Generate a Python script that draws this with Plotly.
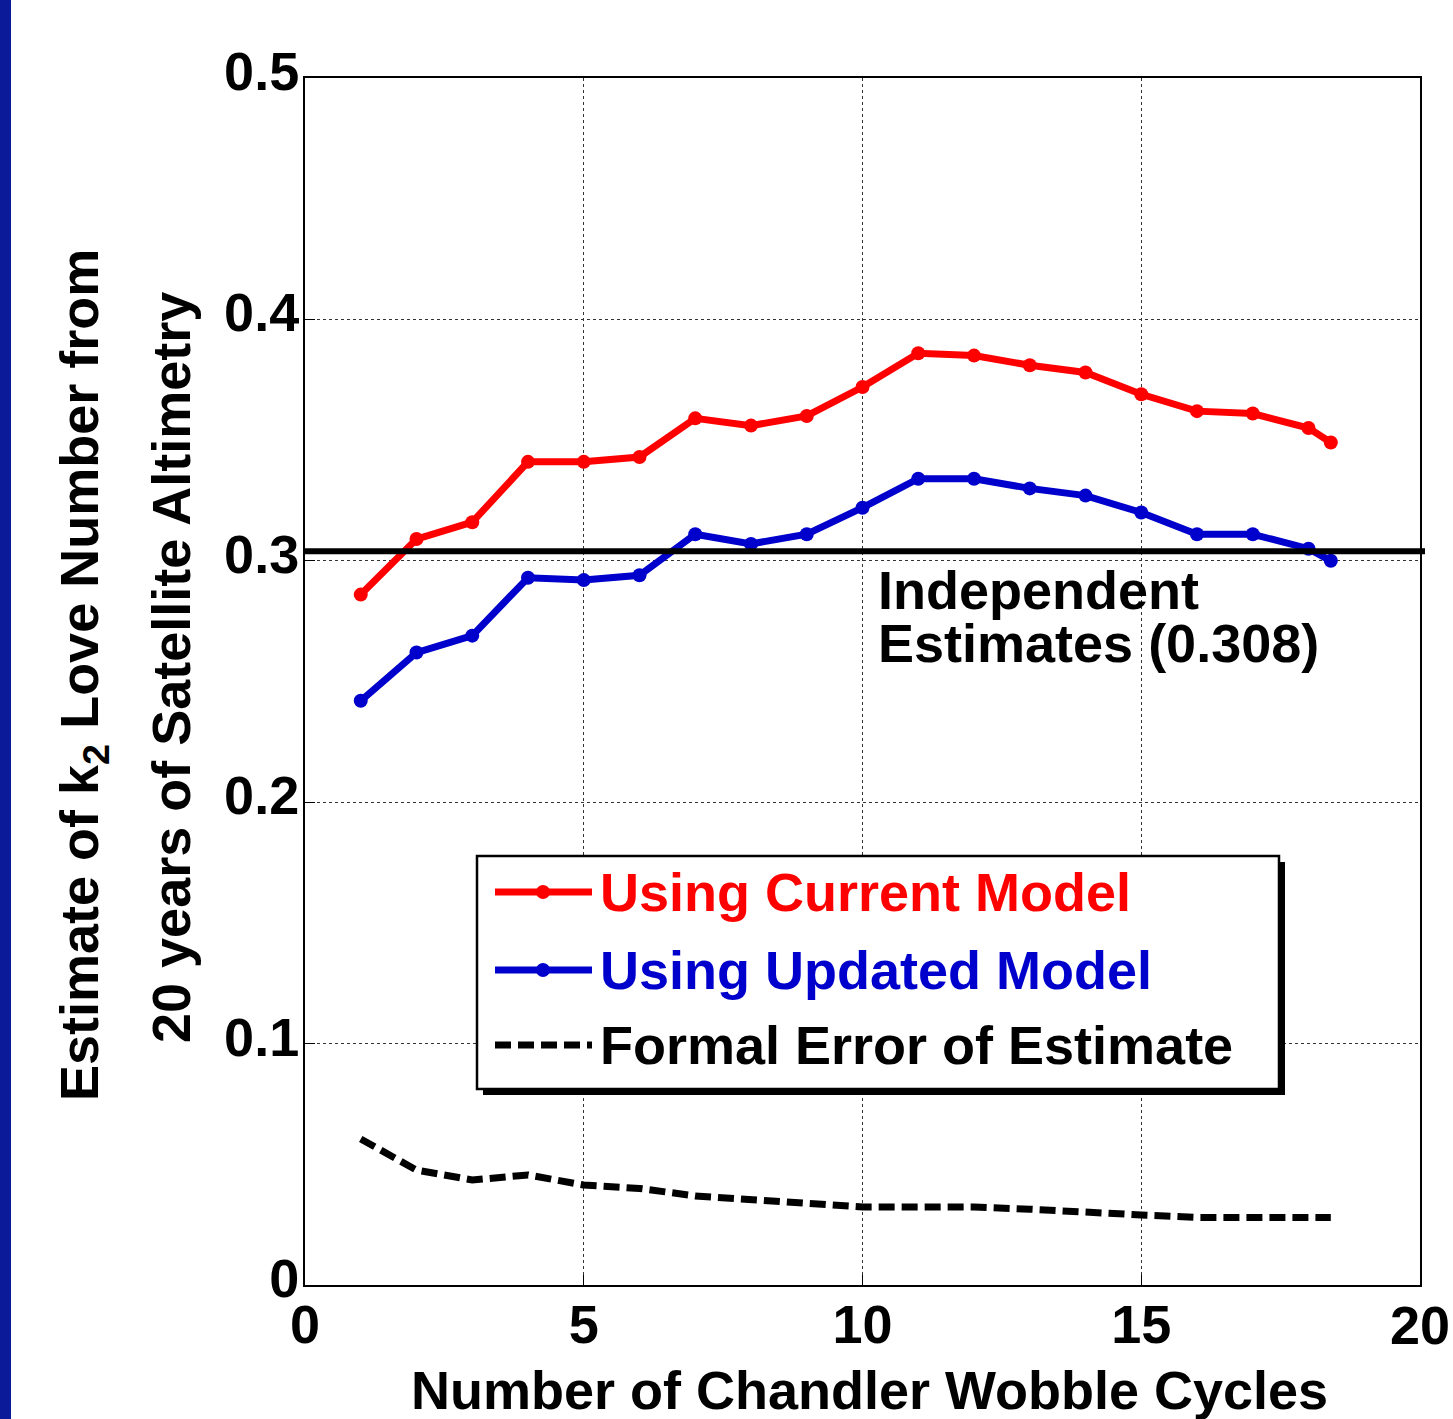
import plotly.graph_objects as go

cycles = [1, 2, 3, 4, 5, 6, 7, 8, 9, 10, 11, 12, 13, 14, 15, 16, 17, 18, 18.4]
current_model = [0.286, 0.309, 0.316, 0.341, 0.341, 0.343, 0.359, 0.356, 0.360, 0.372,
                 0.386, 0.385, 0.381, 0.378, 0.369, 0.362, 0.361, 0.355, 0.349]
updated_model = [0.242, 0.262, 0.269, 0.293, 0.292, 0.294, 0.311, 0.307, 0.311, 0.322,
                 0.334, 0.334, 0.330, 0.327, 0.320, 0.311, 0.311, 0.305, 0.300]
formal_error = [0.0605, 0.0476, 0.0435, 0.0456, 0.0414, 0.0400, 0.0369, 0.0356, 0.0336, 0.0323,
                0.0323, 0.0323, 0.0314, 0.0300, 0.0290, 0.0280, 0.0280, 0.0280, 0.0280]
independent_estimate = 0.304
x_ticks = [0, 5, 10, 15, 20]
x_tick_text = ["0", "5", "10", "15", "20"]
y_ticks = [0, 0.1, 0.2, 0.3, 0.4, 0.5]
y_tick_text = ["0", "0.1", "0.2", "0.3", "0.4", "0.5"]

W, H = 1453, 1419
L, R, T, B = 305, 1420, 78, 1285
FONT = "Liberation Sans"
FS = 54


def px(x):
    return (x - L) / (R - L)


def py(y):
    return (B - y) / (B - T)


fig = go.Figure()
fig.add_trace(go.Scatter(x=cycles, y=formal_error, mode="lines",
                         line=dict(color="black", width=7, dash="16px,7px"),
                         showlegend=False))
fig.add_trace(go.Scatter(x=cycles, y=current_model, mode="lines+markers",
                         line=dict(color="#ff0000", width=7),
                         marker=dict(color="#ff0000", size=14), showlegend=False))
fig.add_trace(go.Scatter(x=cycles, y=updated_model, mode="lines+markers",
                         line=dict(color="#0000cc", width=7),
                         marker=dict(color="#0000cc", size=14), showlegend=False))

shapes = []
# left blue bar
shapes.append(dict(type="rect", xref="paper", yref="paper", x0=px(0), x1=px(11),
                   y0=py(H), y1=py(0), fillcolor="#0a1a99", line=dict(width=0), layer="above"))
# independent estimate line
shapes.append(dict(type="line", xref="paper", yref="y", x0=0, x1=px(1425),
                   y0=independent_estimate, y1=independent_estimate,
                   line=dict(color="black", width=6), layer="above"))
# legend shadow and box
shapes.append(dict(type="rect", xref="paper", yref="paper", x0=px(483), x1=px(1285),
                   y0=py(1095), y1=py(862), fillcolor="black", line=dict(width=0), layer="above"))
shapes.append(dict(type="rect", xref="paper", yref="paper", x0=px(477), x1=px(1279),
                   y0=py(1089), y1=py(856), fillcolor="white",
                   line=dict(color="black", width=2.5), layer="above"))
# legend samples
legend_rows = [("Using Current Model", "#ff0000", 892, "solid"),
               ("Using Updated Model", "#0000cc", 970, "solid"),
               ("Formal Error of Estimate", "black", 1045, "16px,7px")]
annotations = []
for label, col, yy, dash in legend_rows:
    shapes.append(dict(type="line", xref="paper", yref="paper", x0=px(495), x1=px(592),
                       y0=py(yy), y1=py(yy), line=dict(color=col, width=7, dash=dash),
                       layer="above"))
    if dash == "solid":
        shapes.append(dict(type="circle", xref="paper", yref="paper",
                           x0=px(536), x1=px(550), y0=py(yy + 7), y1=py(yy - 7),
                           fillcolor=col, line=dict(width=0), layer="above"))
    annotations.append(dict(text=label, xref="paper", yref="paper", x=px(598), y=py(yy),
                            xanchor="left", yanchor="middle", showarrow=False,
                            font=dict(family=FONT, size=FS, color=col, weight="bold")))

annotations.append(dict(text="Independent", xref="paper", yref="paper", x=px(876), y=py(590),
                        xanchor="left", yanchor="middle", showarrow=False,
                        font=dict(family=FONT, size=FS, color="black", weight="bold")))
annotations.append(dict(text="Estimates (0.308)", xref="paper", yref="paper", x=px(876), y=py(643),
                        xanchor="left", yanchor="middle", showarrow=False,
                        font=dict(family=FONT, size=FS, color="black", weight="bold")))
annotations.append(dict(text="Estimate of k<sub>2</sub> Love Number from", xref="paper", yref="paper",
                        x=px(83), y=py(675), xanchor="center", yanchor="middle", textangle=-90,
                        showarrow=False,
                        font=dict(family=FONT, size=FS, color="black", weight="bold")))
annotations.append(dict(text="20 years of Satellite Altimetry", xref="paper", yref="paper",
                        x=px(171), y=py(668), xanchor="center", yanchor="middle", textangle=-90,
                        showarrow=False,
                        font=dict(family=FONT, size=FS, color="black", weight="bold")))
annotations.append(dict(text="Number of Chandler Wobble Cycles", xref="paper", yref="paper",
                        x=px(869), y=py(1390), xanchor="center", yanchor="middle",
                        showarrow=False,
                        font=dict(family=FONT, size=FS, color="black", weight="bold")))
# last x tick label placed at the right edge of the axis (kept inside the page)
annotations.append(dict(text=x_tick_text[-1], xref="x", yref="paper", x=x_ticks[-1],
                        y=py(1325), xanchor="center", yanchor="middle", showarrow=False,
                        font=dict(family=FONT, size=FS, color="black", weight="bold")))

axis_common = dict(showline=True, linecolor="black", linewidth=2, mirror=True,
                   showgrid=True, gridcolor="#333333", gridwidth=1, griddash="dot",
                   ticks="inside", ticklen=10, tickcolor="black", zeroline=False,
                   tickfont=dict(family=FONT, size=FS, color="black", weight="bold"))

fig.update_layout(
    width=W, height=H,
    margin=dict(l=L, r=W - R, t=T, b=H - B),
    paper_bgcolor="white", plot_bgcolor="white",
    xaxis=dict(range=[0, 20], tickvals=x_ticks, ticktext=x_tick_text[:-1] + [""],
               ticklabelstandoff=-9, **axis_common),
    yaxis=dict(range=[0, 0.5], tickvals=y_ticks, ticktext=y_tick_text,
               ticklabelstandoff=-7, ticklabelshift=-7, **axis_common),
    shapes=shapes, annotations=annotations, showlegend=False,
)

fig.write_html(
    "out.html",
    config={"displayModeBar": False},
    post_script="document.body.style.margin='0px';document.body.style.overflow='hidden';"
                "document.documentElement.style.overflow='hidden';",
)
